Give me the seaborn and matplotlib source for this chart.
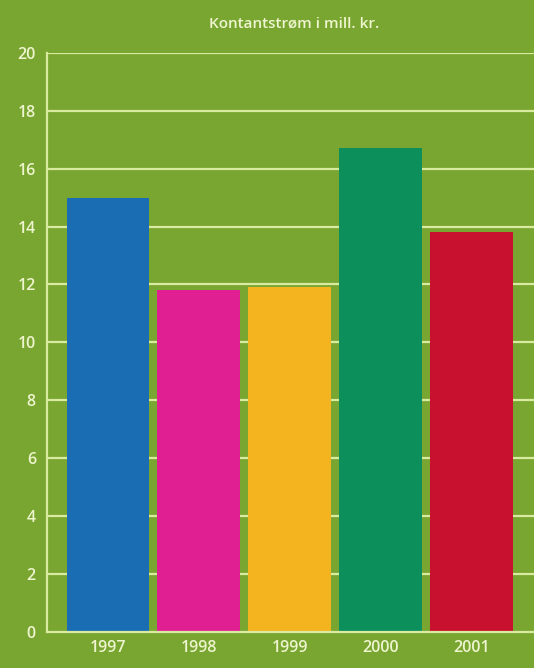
import seaborn as sns
import matplotlib
import matplotlib.pyplot as plt
import pandas as pd

matplotlib.use('Agg')

years = ['1997', '1998', '1999', '2000', '2001']
values = [15.0, 11.8, 11.9, 16.7, 13.8]
colors = ['#1b6db3', '#e01f92', '#f4b41f', '#0d8f5c', '#c8102f']
title = 'Kontantstrøm i mill. kr.'

bg = '#79a531'
grid_col = '#d9eba0'
text_col = '#eef5cf'

sns.set_style('white')
plt.rcParams['font.family'] = ['Open Sans', 'DejaVu Sans']

df = pd.DataFrame({'year': years, 'value': values})

fig = plt.figure(figsize=(5.34, 6.68), dpi=100)
fig.patch.set_facecolor(bg)
ax = fig.add_axes([0.088, 0.054, 0.912, 0.867])
ax.set_facecolor(bg)

# gridlines first, bars on top
for y in range(2, 21, 2):
    ax.axhline(y, color=grid_col, lw=1.6, zorder=0)

sns.barplot(data=df, x='year', y='value', hue='year', palette=colors,
            width=0.91, saturation=1, legend=False, ax=ax, zorder=2,
            linewidth=0, edgecolor='none')

ax.set_ylim(0, 20)
ax.set_xlim(-0.67, 4.69)
ax.set_yticks(range(0, 21, 2))
ax.set_xlabel('')
ax.set_ylabel('')

for s in ['top', 'right']:
    ax.spines[s].set_visible(False)
for s in ['left', 'bottom']:
    ax.spines[s].set_color(grid_col)
    ax.spines[s].set_linewidth(1.6)

ax.tick_params(axis='y', colors=text_col, labelsize=11.5, length=4, width=1.2, pad=4)
ax.tick_params(axis='x', colors=text_col, labelsize=11.5, length=0, pad=6)
for lbl in ax.get_xticklabels() + ax.get_yticklabels():
    lbl.set_fontweight('semibold')

fig.text(0.55, 0.965, title, ha='center', va='center', color=text_col,
         fontsize=11, fontweight='semibold')

fig.savefig('out.png', dpi=100, facecolor=bg)
